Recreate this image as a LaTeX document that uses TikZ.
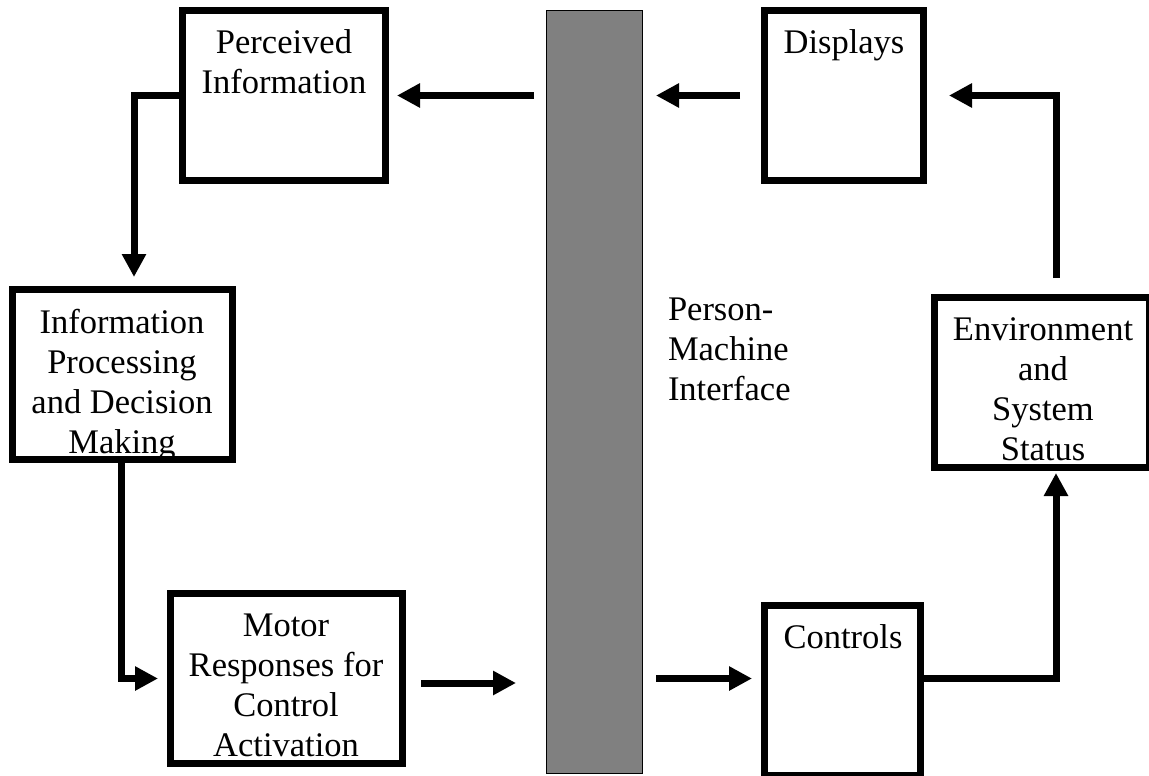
\documentclass[tikz,border=0pt]{standalone}
\usepackage{fontspec}
\setmainfont{Liberation Serif}
\usetikzlibrary{arrows.meta}
\definecolor{bargray}{RGB}{128,128,128}
\tikzset{
  boxnode/.style={draw=black, line width=7pt, outer sep=3.5pt, inner sep=0pt, minimum width=#1},
  boxnode/.default=200pt,
  txt/.style={inner sep=0pt, outer sep=0pt, align=center, anchor=north, font=\fontsize{34.5}{40}\selectfont},
  txtleft/.style={txt, align=left, anchor=north west},
  arr/.style={line width=7pt, -{Triangle[length=23pt,width=23pt]}},
  flowline/.style={line width=7pt, line join=miter},
  barnode/.style={draw=black, line width=1pt, fill=bargray, inner sep=0pt, outer sep=0.5pt}
}
\begin{document}
\begin{tikzpicture}[x=1pt,y=-1pt]
\useasboundingbox (0,0) rectangle (1149,776);
\fill[white] (0,0) rectangle (1149,776);

% interface bar
\node[barnode, minimum width=96pt, minimum height=763pt] (bar) at (594.5,392) {};

% texts (drawn before the frames, so the frames cover any overflow)
\node[txt] (pit) at (284,29.4) {Perceived\\Information};
\node[txt] (dist) at (844,29.4) {Displays};
\node[txt] (ipt) at (122,309.4) {Information\\Processing\\and Decision\\Making};
\node[txt] (envt) at (1043,317.4) {Environment\\and\\System\\Status};
\node[txt] (mott) at (286,614.2) {Motor\\Responses for\\Control\\Activation};
\node[txt] (ctlt) at (843,624.4) {Controls};
\node[txtleft] (pmi) at (668,298.4) {Person-\\Machine\\Interface};

% frames
\node[boxnode=203pt, minimum height=170pt] (pi) at (284,95.5) {};
\node[boxnode=159pt, minimum height=170pt] (dis) at (844,95.5) {};
\node[boxnode=220pt, minimum height=170pt] (ip) at (122.5,374.5) {};
\node[boxnode=215pt, minimum height=170pt] (env) at (1042,382.5) {};
\node[boxnode=232pt, minimum height=170pt] (mot) at (286.5,678.5) {};
\node[boxnode=156pt, minimum height=170pt] (ctl) at (842.5,690.5) {};

% connectors
\draw[arr] ([xshift=-12pt]bar.west |- pi.east) -- ([xshift=8pt]pi.east);
\draw[arr] ([xshift=-21pt]dis.west) -- ([xshift=13pt]bar.east |- dis.west);
\draw[arr, line join=miter] ([xshift=14pt,yshift=16pt]env.north) |- ([xshift=22pt]dis.east);
\draw[arr, line join=miter] (pi.west) -| ([xshift=11.5pt,yshift=9pt]ip.north);
\draw[arr, line join=miter] ([xshift=-1.5pt]ip.south) |- ([xshift=-9pt]mot.west);
\draw[arr] ([xshift=15pt,yshift=-4.5pt]mot.east) -- ([xshift=-30pt,yshift=-4.5pt]bar.west |- mot.east);
\draw[arr] ([xshift=13pt]bar.east |- mot.west) -- ([xshift=-9pt]ctl.west |- mot.west);
\draw[arr, line join=miter] (ctl.east |- mot.east) -| ([xshift=14pt,yshift=-2pt]env.south);
\end{tikzpicture}
\end{document}
